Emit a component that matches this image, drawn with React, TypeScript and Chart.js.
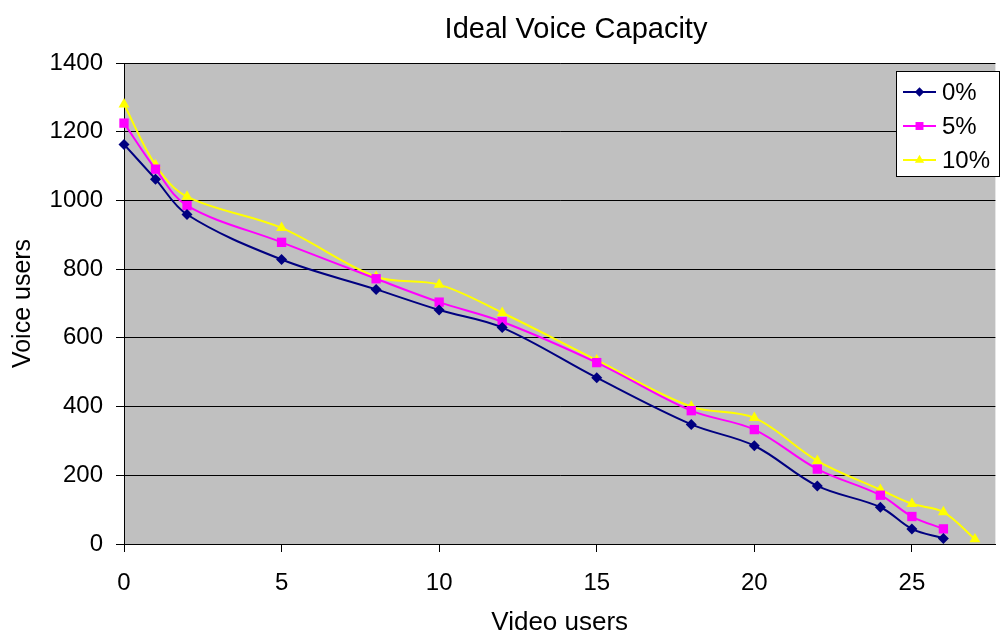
import React, { useEffect, useRef } from 'react';
import { Chart, registerables } from 'chart.js';

Chart.register(...registerables);

// ---- data ----
const chartTitle = 'Ideal Voice Capacity';
const xAxisTitle = 'Video users';
const yAxisTitle = 'Voice users';
const seriesLabels = ['0%', '5%', '10%'];
const videoUsers = [0, 1, 2, 5, 8, 10, 12, 15, 18, 20, 22, 24, 25, 26, 27];
const voice0 = [1163, 1062, 959, 828, 741, 681, 630, 484, 348, 286, 169, 107, 44, 16];
const voice5 = [1225, 1091, 985, 878, 772, 704, 647, 528, 388, 333, 218, 142, 80, 44];
const voice10 = [1280, 1103, 1011, 920, 778, 755, 673, 535, 400, 367, 242, 158, 117, 93, 14];
const xTicks = [0, 5, 10, 15, 20, 25];
const yTicks = [0, 200, 400, 600, 800, 1000, 1200, 1400];

const FONT = "'Liberation Sans', Arial, sans-serif";
const colors = ['#000080', '#FF00FF', '#FFFF00'];
const pointStyles = ['rectRot', 'rect', 'triangle'];
const pointRadii = [5.5, 6.6, 6.3];

function toPoints(vals: number[]) {
  return vals.map((v, i) => ({ x: videoUsers[i], y: v }));
}

function drawMarker(ctx: CanvasRenderingContext2D, style: string, x: number, y: number, r: number) {
  ctx.beginPath();
  if (style === 'rectRot') {
    ctx.moveTo(x, y - r);
    ctx.lineTo(x + r, y);
    ctx.lineTo(x, y + r);
    ctx.lineTo(x - r, y);
    ctx.closePath();
  } else if (style === 'rect') {
    const s = r * Math.SQRT1_2;
    ctx.rect(x - s, y - s, 2 * s, 2 * s);
  } else {
    ctx.moveTo(x, y - r);
    ctx.lineTo(x + r * Math.sin((2 * Math.PI) / 3), y - r * Math.cos((2 * Math.PI) / 3));
    ctx.lineTo(x + r * Math.sin((4 * Math.PI) / 3), y - r * Math.cos((4 * Math.PI) / 3));
    ctx.closePath();
  }
  ctx.fill();
}

const decorPlugin = {
  id: 'decor',
  beforeDraw(chart: any) {
    const { ctx, chartArea } = chart;
    ctx.save();
    ctx.fillStyle = '#FFFFFF';
    ctx.fillRect(0, 0, chart.width, chart.height);
    ctx.fillStyle = '#C0C0C0';
    ctx.fillRect(chartArea.left, chartArea.top, chartArea.right - chartArea.left, chartArea.bottom - chartArea.top);
    ctx.restore();
  },
  afterDraw(chart: any) {
    const { ctx } = chart;
    ctx.save();
    // title
    ctx.fillStyle = '#000';
    ctx.font = `29px ${FONT}`;
    ctx.textAlign = 'center';
    ctx.textBaseline = 'alphabetic';
    ctx.fillText(chartTitle, 576, 38);
    // legend
    const bx = 896.5, by = 71.5, bw = 103, bh = 105;
    ctx.fillStyle = '#FFFFFF';
    ctx.fillRect(bx, by, bw, bh);
    ctx.strokeStyle = '#000';
    ctx.lineWidth = 1;
    ctx.strokeRect(bx, by, bw, bh);
    chart.data.datasets.forEach((ds: any, i: number) => {
      const cy = 92 + i * 34;
      ctx.strokeStyle = colors[i];
      ctx.lineWidth = 2;
      ctx.beginPath();
      ctx.moveTo(903, cy);
      ctx.lineTo(936, cy);
      ctx.stroke();
      ctx.fillStyle = colors[i];
      drawMarker(ctx, pointStyles[i], 919.5, cy, pointRadii[i] * 0.85);
      ctx.fillStyle = '#000';
      ctx.font = `24px ${FONT}`;
      ctx.textAlign = 'left';
      ctx.textBaseline = 'middle';
      ctx.fillText(ds.label, 942, cy + 1);
    });
    ctx.restore();
  },
};

export default function App() {
  const canvasRef = useRef<HTMLCanvasElement | null>(null);

  useEffect(() => {
    if (!canvasRef.current) return;
    const seriesValues = [voice0, voice5, voice10];
    const chart = new Chart(canvasRef.current, {
      type: 'line',
      data: {
        datasets: seriesValues.map((vals, i) => ({
          label: seriesLabels[i],
          data: toPoints(vals),
          borderColor: colors[i],
          backgroundColor: colors[i],
          borderWidth: 2,
          pointStyle: pointStyles[i] as any,
          pointRadius: pointRadii[i],
          pointBorderWidth: 0,
          pointBackgroundColor: colors[i],
          tension: 0.35,
          fill: false,
          clip: false as any,
        })),
      },
      options: {
        responsive: false,
        animation: false,
        layout: { padding: { top: 63, right: 1, left: 0, bottom: 0 } },
        plugins: {
          legend: { display: false },
          title: { display: false },
          tooltip: { enabled: false },
        },
        scales: {
          x: {
            type: 'linear',
            min: 0,
            max: 27.65,
            afterBuildTicks: (s: any) => {
              s.ticks = xTicks.map((v) => ({ value: v }));
            },
            afterFit: (s: any) => {
              s.height = 92;
            },
            ticks: {
              color: '#000',
              font: { family: FONT, size: 24 },
              padding: 17,
              autoSkip: false,
              maxRotation: 0,
              callback: (v: any) => String(v),
            },
            grid: { drawOnChartArea: false, drawTicks: true, tickLength: 8, color: '#000' },
            border: { color: '#000', width: 1 },
            title: {
              display: true,
              text: xAxisTitle,
              color: '#000',
              font: { family: FONT, size: 26, lineHeight: 1 },
              padding: { top: 0, bottom: 0 },
            },
          },
          y: {
            min: 0,
            max: 1400,
            afterBuildTicks: (s: any) => {
              s.ticks = yTicks.map((v) => ({ value: v }));
            },
            afterFit: (s: any) => {
              s.width = 124;
            },
            ticks: {
              color: '#000',
              font: { family: FONT, size: 24 },
              padding: 13,
              callback: (v: any) => String(v),
            },
            grid: { color: '#000', lineWidth: 1, drawTicks: true, tickLength: 8 },
            border: { color: '#000', width: 1 },
            title: {
              display: true,
              text: yAxisTitle,
              color: '#000',
              font: { family: FONT, size: 25, lineHeight: 1 },
              padding: { top: 11, bottom: 0 },
            },
          },
        },
      },
      plugins: [decorPlugin],
    });
    return () => chart.destroy();
  }, []);

  return (
    <div style={{ position: 'fixed', left: 0, top: 0, width: 1002, height: 636, background: '#fff' }}>
      <canvas ref={canvasRef} width={1002} height={636} style={{ display: 'block' }} />
    </div>
  );
}
